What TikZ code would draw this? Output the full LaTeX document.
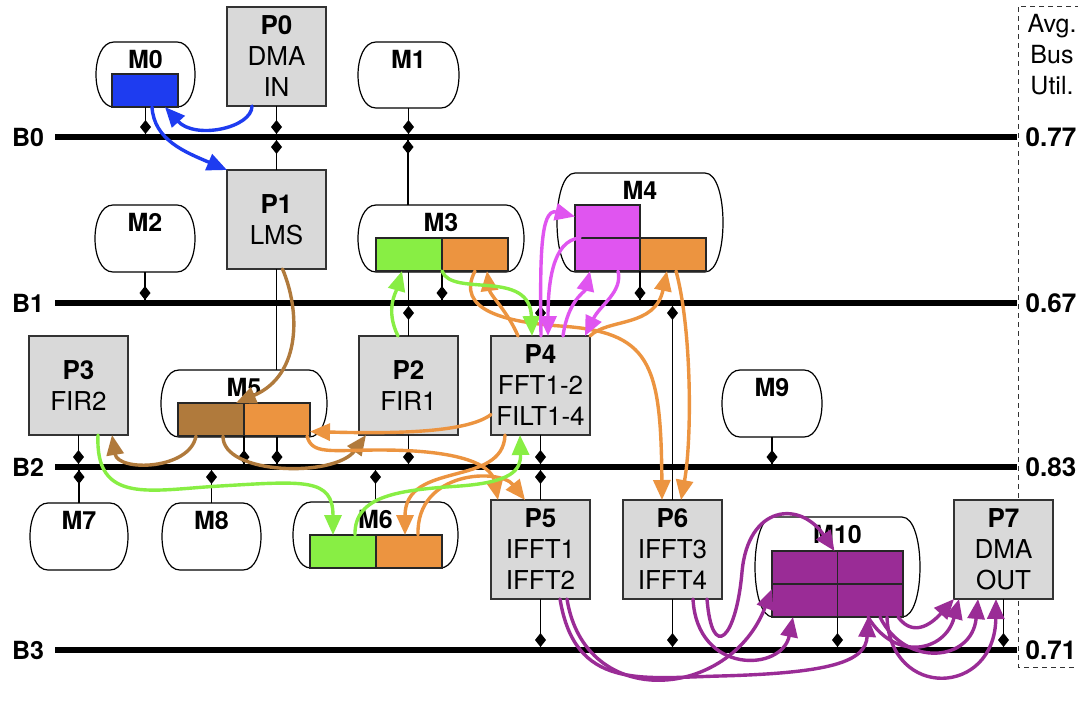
\documentclass[tikz,border=0pt]{standalone}
\usepackage{fontspec}
\setmainfont{TeX Gyre Heros}
\usetikzlibrary{arrows.meta,calc}
\definecolor{cblue}{RGB}{30,60,240}
\definecolor{cgreen}{RGB}{136,238,68}
\definecolor{corange}{RGB}{236,148,64}
\definecolor{cbrown}{RGB}{176,122,60}
\definecolor{cmag}{RGB}{224,85,240}
\definecolor{cpurple}{RGB}{154,44,150}
\definecolor{pgray}{RGB}{217,217,217}
\tikzset{
  bus/.style={line width=6.5pt, black},
  stub/.style={line width=1.3pt, black},
  proc/.style={draw=black!80, line width=1.2pt, fill=pgray, minimum width=99pt, minimum height=99pt,
    inner sep=0pt, outer sep=0pt, align=center, anchor=north west, font=\fontsize{26}{31}\selectfont},
  memn/.style={inner sep=0pt, outer sep=0pt},
  memline/.style={draw=black, line width=1.2pt, fill=white},
  memlabel/.style={font=\fontsize{25}{26}\selectfont\bfseries, inner sep=0pt},
  buslabel/.style={font=\fontsize{25}{26}\selectfont\bfseries, inner sep=0pt},
  utillabel/.style={font=\fontsize{26}{26}\selectfont\bfseries, inner sep=0pt},
  buf/.style={draw=black!85, line width=1.2pt, inner sep=0pt, outer sep=0pt, anchor=north west},
  flow/.style={line width=3.4pt, line cap=round, -{Triangle[length=20pt,width=17pt]}},
  dashbox/.style={line width=1pt, black!80, dash pattern=on 5pt off 4pt},
}
\newcommand\memnode[6]{%
  \node[memn, minimum width=#4pt, minimum height=#5pt] (#1) at (#2,#3) {};
  \draw[memline] ($(#1.north west)+(18,0)$) -- ($(#1.north east)+(-18,0)$)
    .. controls ($(#1.north east)+(6,0)$) and ($(#1.south east)+(6,0)$) .. ($(#1.south east)+(-18,0)$)
    -- ($(#1.south west)+(18,0)$)
    .. controls ($(#1.south west)+(-6,0)$) and ($(#1.north west)+(-6,0)$) .. cycle;
  \node[memlabel] (#1-l) at ($(#1.north)+(0,17)$) {#6};
}
\newcommand\diam[1]{\fill #1 ++(0,-7) -- ++(5.5,7) -- ++(-5.5,7) -- ++(-5.5,-7) -- cycle;}
\begin{document}
\begin{tikzpicture}[x=1pt,y=-1pt]
\useasboundingbox (0,0) rectangle (1078,702);
\fill[white] (0,0) rectangle (1078,702);

% buses
\coordinate (B0w) at (55,137); \coordinate (B0e) at (1017,137);
\coordinate (B1w) at (55,303); \coordinate (B1e) at (1017,303);
\coordinate (B2w) at (55,467); \coordinate (B2e) at (1017,467);
\coordinate (B3w) at (55,650); \coordinate (B3e) at (1017,650);
\draw[bus] (B0w) -- (B0e);
\draw[bus] (B1w) -- (B1e);
\draw[bus] (B2w) -- (B2e);
\draw[bus] (B3w) -- (B3e);
\node[buslabel] (B0l) at (28,137) {B0};
\node[buslabel] (B1l) at (28,303) {B1};
\node[buslabel] (B2l) at (28,467) {B2};
\node[buslabel] (B3l) at (28,650) {B3};

% utilisation column
\draw[dashbox] (1080,6) -- (1018,6) -- (1018,667) -- (1080,667);
\node[align=center, inner sep=0pt, font=\fontsize{25}{31}\selectfont] (UT) at (1052,55) {Avg.\\Bus\\Util.};
\node[utillabel] (U0) at (1051,137) {0.77};
\node[utillabel] (U1) at (1051,303) {0.67};
\node[utillabel] (U2) at (1051,467) {0.83};
\node[utillabel] (U3) at (1051,650) {0.71};

% memories
\memnode{M0}{145.5}{74.5}{99}{65}{M0}
\memnode{M1}{408.5}{75}{101}{66}{M1}
\memnode{M2}{145}{238.5}{100}{67}{M2}
\memnode{M3}{441}{238.5}{166}{67}{M3}
\memnode{M4}{640}{222.5}{166}{99}{M4}
\memnode{M5}{244}{403.5}{166}{67}{M5}
\memnode{M6}{375.5}{535}{165}{66}{M6}
\memnode{M7}{79}{536.5}{98}{67}{M7}
\memnode{M8}{211.5}{536.5}{99}{67}{M8}
\memnode{M9}{772}{403.5}{100}{67}{M9}
\memnode{M10}{837.5}{567}{165}{100}{M10}

% processors
\node[proc] (P0) at (227,7) {\textbf{P0}\\DMA\\IN};
\node[proc] (P1) at (227,170) {\textbf{P1}\\LMS};
\node[proc] (P2) at (359,336) {\textbf{P2}\\FIR1};
\node[proc] (P3) at (29,336) {\textbf{P3}\\FIR2};
\node[proc] (P4) at (491,336) {\textbf{P4}\\FFT1-2\\FILT1-4};
\node[proc] (P5) at (491,500) {\textbf{P5}\\IFFT1\\IFFT2};
\node[proc] (P6) at (623,500) {\textbf{P6}\\IFFT3\\IFFT4};
\node[proc] (P7) at (954,500) {\textbf{P7}\\DMA\\OUT};

% buffers
\node[buf, fill=cblue, minimum width=66pt, minimum height=33pt] (M0b) at (112,74) {};
\node[buf, fill=cgreen, minimum width=66pt, minimum height=33pt] (M3g) at (376,238) {};
\node[buf, fill=corange, minimum width=66pt, minimum height=33pt] (M3or) at (442,238) {};
\node[buf, fill=cmag, minimum width=65pt, minimum height=33pt] (M4mt) at (575,205) {};
\node[buf, fill=cmag, minimum width=65pt, minimum height=33pt] (M4mb) at (575,238) {};
\node[buf, fill=corange, minimum width=66pt, minimum height=33pt] (M4or) at (640,238) {};
\node[buf, fill=cbrown, minimum width=66pt, minimum height=33pt] (M5br) at (178,403) {};
\node[buf, fill=corange, minimum width=66pt, minimum height=33pt] (M5or) at (244,403) {};
\node[buf, fill=cgreen, minimum width=66pt, minimum height=33pt] (M6g) at (310,535) {};
\node[buf, fill=corange, minimum width=66pt, minimum height=33pt] (M6or) at (376,535) {};
\node[buf, fill=cpurple, minimum width=131pt, minimum height=66pt] (M10b) at (772,551) {};
\draw[line width=1.2pt, black!85] (M10b.north) -- (M10b.south);
\draw[line width=1.2pt, black!85] (M10b.west) -- (M10b.east);

% bus stubs
\draw[stub] (M0.south) -- (M0.south |- B0w); \diam{($(M0.south |- B0w)+(0,-10)$)}
\draw[stub] (P0.south) -- (P0.south |- B0w); \diam{($(P0.south |- B0w)+(0,-10)$)}
\draw[stub] (P1.north) -- (P1.north |- B0w); \diam{($(P1.north |- B0w)+(0,10)$)}
\draw[stub] (M1.south) -- (M1.south |- B0w); \diam{($(M1.south |- B0w)+(0,-10)$)}
\draw[stub] ([xshift=-33pt]M3.north) -- ([xshift=-33pt]M3.north |- B0w); \diam{($([xshift=-33pt]M3.north |- B0w)+(0,10)$)}
\draw[stub] (M2.south) -- (M2.south |- B1w); \diam{($(M2.south |- B1w)+(0,-10)$)}
\draw[stub] (P1.south) -- (P1.south |- M5.north);
\draw[stub] (M3g.south east) -- (M3g.south east |- B1w); \diam{($(M3g.south east |- B1w)+(0,-10)$)}
\draw[stub] (P2.north) -- (P2.north |- M3.south); \diam{($(P2.north |- B1w)+(0,10)$)}
\draw[stub] (M4mb.south east) -- (M4mb.south east |- B1w); \diam{($(M4mb.south east |- B1w)+(0,-10)$)}
\draw[stub] (P6.north) -- (P6.north |- B1w); \diam{($(P6.north |- B1w)+(0,10)$)}
\draw[stub] (P4.north) -- (P4.north |- B1w); \diam{($(P4.north |- B1w)+(0,10)$)}
\draw[stub] (P3.south) -- (P3.south |- B2w); \diam{($(P3.south |- B2w)+(0,-10)$)}
\draw[stub] (M7.north) -- (M7.north |- B2w); \diam{($(M7.north |- B2w)+(0,10)$)}
\draw[stub] (M8.north) -- (M8.north |- B2w); \diam{($(M8.north |- B2w)+(0,10)$)}
\draw[stub] (M5br.south east) -- (M5br.south east |- B2w); \diam{($(M5br.south east |- B2w)+(0,-10)$)}
\draw[stub] ([xshift=33pt]M5.south) -- ([xshift=33pt]M5.south |- B2w); \diam{($([xshift=33pt]M5.south |- B2w)+(0,-10)$)}
\draw[stub] (P2.south) -- (P2.south |- B2w); \diam{($(P2.south |- B2w)+(0,-10)$)}
\draw[stub] (M6.north) -- (M6.north |- B2w); \diam{($(M6.north |- B2w)+(0,10)$)}
\draw[stub] (P4.south) -- (P4.south |- B2w); \diam{($(P4.south |- B2w)+(0,-10)$)}
\draw[stub] (P5.north) -- (P5.north |- B2w); \diam{($(P5.north |- B2w)+(0,10)$)}
\draw[stub] (M9.south) -- (M9.south |- B2w); \diam{($(M9.south |- B2w)+(0,-10)$)}
\draw[stub] (P5.south) -- (P5.south |- B3w); \diam{($(P5.south |- B3w)+(0,-10)$)}
\draw[stub] (P6.south) -- (P6.south |- B3w); \diam{($(P6.south |- B3w)+(0,-10)$)}
\draw[stub] (M10b.south) -- (M10b.south |- B3w); \diam{($(M10b.south |- B3w)+(0,-10)$)}
\draw[stub] (P7.south) -- (P7.south |- B3w); \diam{($(P7.south |- B3w)+(0,-10)$)}

% blue flows
\draw[flow, cblue] ([xshift=25pt]P0.south west) .. controls (252,128) and (195,140) .. ([xshift=-13pt]M0b.south east);
\draw[flow, cblue] ([xshift=7pt]M0b.south) .. controls (154,140) and (185,152) .. (P1.north west);

% brown flows
\draw[flow, cbrown] ([xshift=6pt]P1.south) .. controls (300,310) and (302,375) .. ([xshift=-8pt]M5br.north east);
\draw[flow, cbrown] ([xshift=-15pt]M5br.south) .. controls (190,470) and (118,472) .. ([xshift=-16pt]P3.south east);
\draw[flow, cbrown] ([xshift=12pt]M5br.south) .. controls (222,475) and (335,478) .. ([xshift=7pt]P2.south west);

% orange flows
\draw[flow, corange] ([yshift=-29pt]P4.west) .. controls (468,432) and (400,434) .. ([yshift=-12pt]M5or.east);
\draw[flow, corange] ([xshift=-3pt]M5or.south east) .. controls (312,455) and (330,450) .. (380,450) .. controls (470,450) and (492,468) .. ([xshift=7pt]P5.north west);
\draw[flow, corange] ([xshift=14pt]P4.south west) .. controls (503,488) and (405,460) .. ([xshift=29pt]M6or.north west);
\draw[flow, corange] ([xshift=42pt]M6or.north west) .. controls (416,470) and (500,468) .. ([xshift=34pt]P5.north west);
\draw[flow, corange] ([xshift=27pt]P4.north west) .. controls (508,312) and (490,295) .. ([xshift=-21pt]M3or.south east);
\draw[flow, corange] (P4.north east) .. controls (608,318) and (655,328) .. ([xshift=27pt]M4or.south west);
\draw[flow, corange] ([xshift=-33pt]M3or.south east) .. controls (455,310) and (505,322) .. (560,326) .. controls (650,332) and (661,362) .. ([xshift=39pt]P6.north west);
\draw[flow, corange] ([xshift=36pt]M4or.south west) .. controls (692,330) and (692,440) .. ([xshift=58pt]P6.north west);

% green flows
\draw[flow, cgreen] ([xshift=39pt]P2.north west) .. controls (385,310) and (396,292) .. ([xshift=26pt]M3g.south west);
\draw[flow, cgreen] (M3g.south east) .. controls (452,298) and (530,268) .. ([xshift=41pt]P4.north west);
\draw[flow, cgreen] ([xshift=69pt]P3.south west) .. controls (95,505) and (150,490) .. (220,486) .. controls (305,481) and (333,478) .. ([xshift=23pt]M6g.north west);
\draw[flow, cgreen] ([xshift=45pt]M6g.north west) .. controls (354,495) and (400,490) .. (460,486) .. controls (512,482) and (521,470) .. ([xshift=29pt]P4.south west);

% magenta flows
\draw[flow, cmag] ([xshift=50pt]P4.north west) .. controls (540,260) and (540,208) .. ([yshift=5pt]M4mt.west);
\draw[flow, cmag] ([xshift=5pt]M4mb.north west) .. controls (552,240) and (548,285) .. ([xshift=57pt]P4.north west);
\draw[flow, cmag] ([xshift=72pt]P4.north west) .. controls (568,300) and (585,292) .. ([xshift=15pt]M4mb.south west);
\draw[flow, cmag] ([xshift=43pt]M4mb.south west) .. controls (623,292) and (600,305) .. ([xshift=94pt]P4.north west);

% purple flows
\draw[flow, cpurple] ([xshift=84pt]P6.south west) .. controls (712,662) and (736,640) .. (742,572) .. controls (748,505) and (800,500) .. ([xshift=-3pt]M10b.north);
\draw[flow, cpurple] ([xshift=76pt]P5.south west) .. controls (585,712) and (730,700) .. ([yshift=-5pt]M10b.west);
\draw[flow, cpurple] ([xshift=70pt]P6.south west) .. controls (697,675) and (782,672) .. ([xshift=21pt]M10b.south west);
\draw[flow, cpurple] ([xshift=69pt]P5.south west) .. controls (575,690) and (640,678) .. (720,676) .. controls (830,673) and (866,662) .. ([xshift=96pt]M10b.south west);
\draw[flow, cpurple] ([xshift=-5pt]M10b.south east) .. controls (915,640) and (935,620) .. (P7.south west);
\draw[flow, cpurple] ([xshift=-35pt]M10b.south east) .. controls (895,662) and (945,652) .. ([xshift=5pt]P7.south west);
\draw[flow, cpurple] ([xshift=-23pt]M10b.south east) .. controls (905,668) and (972,662) .. ([xshift=24pt]P7.south west);
\draw[flow, cpurple] ([xshift=-16pt]M10b.south east) .. controls (890,700) and (995,697) .. ([xshift=42pt]P7.south west);
\end{tikzpicture}
\end{document}
